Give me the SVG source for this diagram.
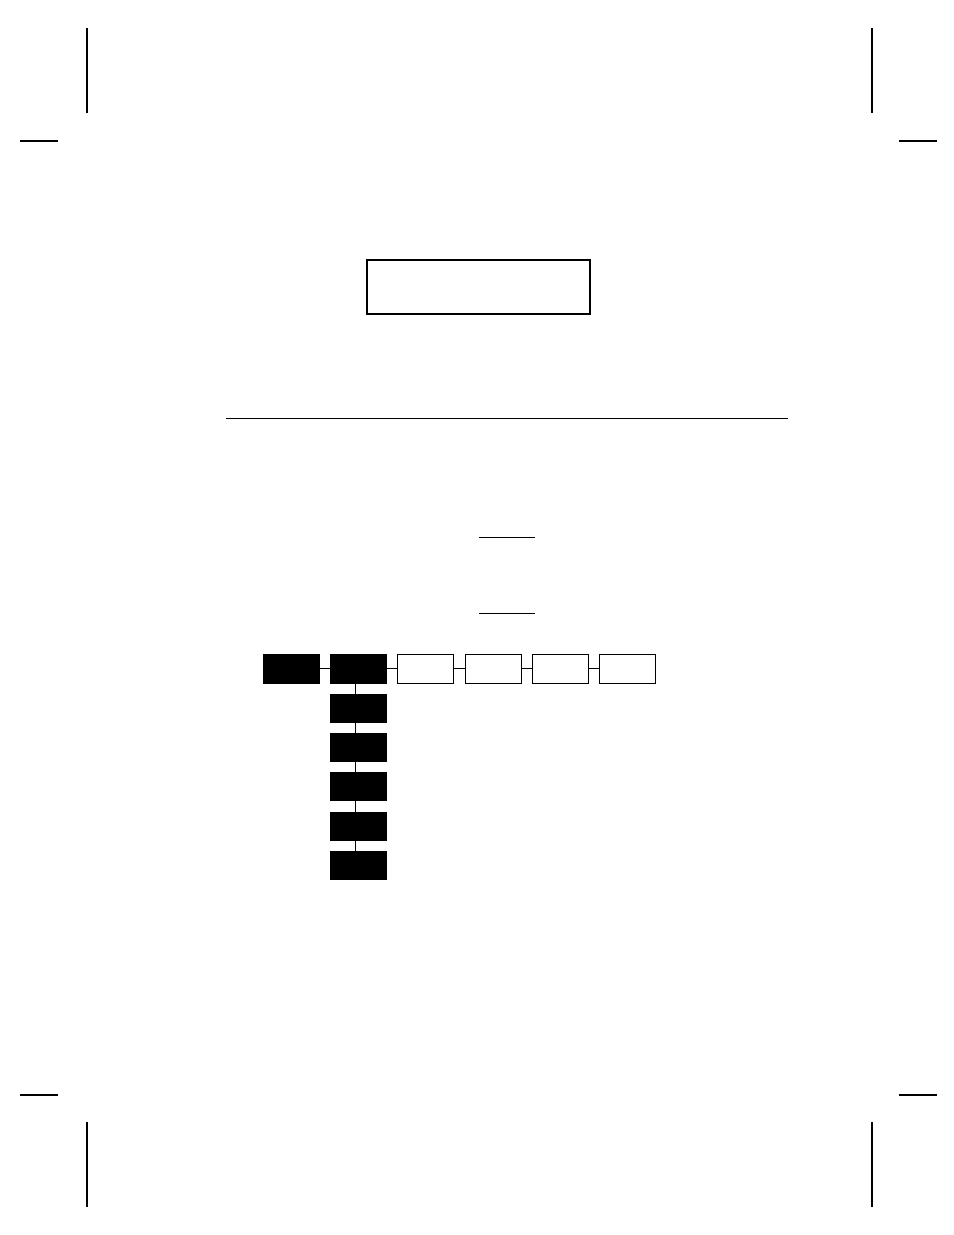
<svg xmlns="http://www.w3.org/2000/svg" width="954" height="1235" viewBox="0 0 954 1235">
<style>
.crop{stroke:#000;stroke-width:2;fill:none}
.rule{stroke:#000;stroke-width:1;fill:none}
.dark{fill:#000;stroke:#000;stroke-width:1}
.light{fill:#fff;stroke:#000;stroke-width:1}
.conn{stroke:#000;stroke-width:1;fill:none}
</style>
<rect width="954" height="1235" fill="#fff"/>
<g id="crop-marks">
<line class="crop" x1="87" y1="28" x2="87" y2="113"/>
<line class="crop" x1="872" y1="28" x2="872" y2="113"/>
<line class="crop" x1="20" y1="141" x2="58" y2="141"/>
<line class="crop" x1="899" y1="141" x2="937" y2="141"/>
<line class="crop" x1="20" y1="1095" x2="58" y2="1095"/>
<line class="crop" x1="899" y1="1095" x2="937" y2="1095"/>
<line class="crop" x1="87" y1="1122" x2="87" y2="1207"/>
<line class="crop" x1="872" y1="1122" x2="872" y2="1207"/>
</g>
<g id="title-box">
<rect x="367" y="260" width="223" height="54" fill="#fff" stroke="#000" stroke-width="2"/>
</g>
<g id="rules">
<line class="rule" x1="226" y1="418.5" x2="788" y2="418.5"/>
<line class="rule" x1="479" y1="537.5" x2="535" y2="537.5"/>
<line class="rule" x1="479" y1="613.5" x2="535" y2="613.5"/>
</g>
<g id="connectors">
<line class="conn" x1="320" y1="668.5" x2="330" y2="668.5"/>
<line class="conn" x1="386" y1="668.5" x2="397" y2="668.5"/>
<line class="conn" x1="453" y1="668.5" x2="465" y2="668.5"/>
<line class="conn" x1="521" y1="668.5" x2="532" y2="668.5"/>
<line class="conn" x1="589" y1="668.5" x2="599" y2="668.5"/>
<line class="conn" x1="355.5" y1="684" x2="355.5" y2="851"/>
</g>
<g id="node-a"><rect class="dark" x="263.5" y="654.5" width="56" height="29"/></g>
<g id="node-b"><rect class="dark" x="330.5" y="654.5" width="56" height="29"/></g>
<g id="node-c"><rect class="light" x="397.5" y="654.5" width="56" height="29"/></g>
<g id="node-d"><rect class="light" x="465.5" y="654.5" width="56" height="29"/></g>
<g id="node-e"><rect class="light" x="532.5" y="654.5" width="56" height="29"/></g>
<g id="node-f"><rect class="light" x="599.5" y="654.5" width="56" height="29"/></g>
<g id="node-b1"><rect class="dark" x="330.5" y="694.5" width="56" height="28"/></g>
<g id="node-b2"><rect class="dark" x="330.5" y="733.5" width="56" height="28"/></g>
<g id="node-b3"><rect class="dark" x="330.5" y="772.5" width="56" height="28"/></g>
<g id="node-b4"><rect class="dark" x="330.5" y="812.5" width="56" height="28"/></g>
<g id="node-b5"><rect class="dark" x="330.5" y="851.5" width="56" height="28"/></g>
</svg>
